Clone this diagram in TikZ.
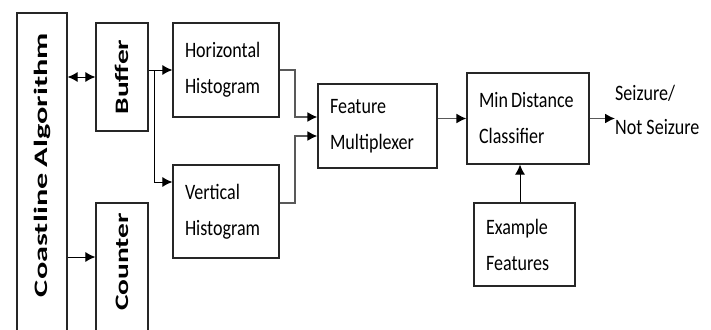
\documentclass[tikz,border=0pt]{standalone}
\usepackage{fontspec}
\setmainfont{Carlito}
\newfontfamily\boxfont[FakeStretch=0.82]{Carlito}
\newfontfamily\sidefont[FakeStretch=1.55]{Carlito}
\newfontfamily\coastfont[FakeStretch=1.7]{Carlito}
\usetikzlibrary{arrows.meta}

\begin{document}
\begin{tikzpicture}[
    x=1pt, y=-1pt,
    block/.style={rectangle, draw=black!85, line width=1.2pt, align=left, inner xsep=12pt, inner ysep=0pt,
        font=\boxfont\fontsize{22}{36}\selectfont},
    side/.style={rectangle, draw=black!85, line width=1.2pt, rotate=90, inner ysep=0pt,
        font=\sidefont\bfseries\fontsize{19}{22}\selectfont},
    arrow/.style={line width=1.6pt, draw=black!65, ->},
    thin_arrow/.style={line width=1pt, draw=black, ->},
    >={Latex[length=10pt, width=10pt, color=black]}
]
\path[use as bounding box, clip] (0,0) rectangle (711,329);

% --- Nodes ---
% Left column (rotated boxes)
\node (coast) at (42,193) [side, minimum height=50, text width=320, inner xsep=20, align=right,
    font=\coastfont\bfseries\fontsize{19}{22}\selectfont] {Coastline Algorithm};
\node (buffer) at (122,77) [side, minimum width=108, minimum height=52] {Buffer};
\node (counter) at (122,288) [side, minimum height=52, text width=150, inner xsep=10, align=right] {Counter};

% Histograms
\node (hh) at (226,70) [block, text width=82, minimum height=94] {Horizontal\\Histogram};
\node (vh) at (226,211.5) [block, text width=82, minimum height=93] {Vertical\\Histogram};

% Right part
\node (fm) at (377.5,126) [block, text width=95, minimum height=84] {Feature\\Multiplexer};
\node (mdc) at (528,118.5) [block, text width=98, minimum height=91] {\mbox{Min\hspace{3pt}Distance}\\Classifier};
\node (ef) at (524.5,244.5) [block, text width=77, minimum height=83] {Example\\Features};
\node (out) at (615,110) [anchor=west, inner sep=0pt, align=left, font=\boxfont\fontsize{22}{34}\selectfont] {Seizure/\\Not Seizure};

% --- Edges ---
\draw [thin_arrow, <->] (coast.south |- buffer) -- (buffer.north);
\draw [thin_arrow] (coast.south |- 0,257) -- (counter.north |- 0,257);

% Buffer split
\draw [thin_arrow] (buffer.south |- hh.west) -- (hh.west);
\draw [thin_arrow] (154,70) |- (vh.west |- 0,182);

% Into the multiplexer
\draw [arrow] (hh.east) -| (295,117) -- (fm.west |- 0,117);
\draw [arrow] (vh.east |- 0,203) -| (295,136) -- (fm.west |- 0,136);

% Classifier
\draw [arrow] (fm.east |- mdc) -- (mdc.west);
\draw [arrow] (mdc.east) -- (out.west |- mdc.east);
\draw [thin_arrow] (ef.north -| 520,0) -- (mdc.south -| 520,0);

\end{tikzpicture}
\end{document}
